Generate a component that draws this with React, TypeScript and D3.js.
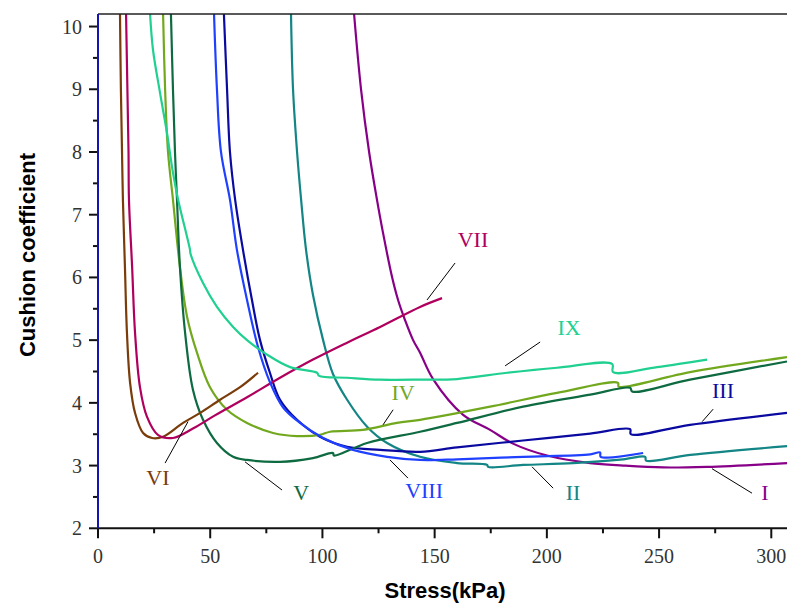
import React from 'react';
import * as d3 from 'd3';

// stress (kPa), cushion coefficient
const curveI: [number, number][] = [
  [114.1, 10.2], [117.2, 9.0], [120.8, 8.0], [124.3, 7.24], [127.0, 6.71], [131.0, 6.01],
  [133.7, 5.64], [136.8, 5.32], [140.4, 5.0], [143.5, 4.8], [149.3, 4.38], [162.7, 3.81],
  [174.7, 3.57], [184.9, 3.35], [200.1, 3.16], [219.3, 3.04], [234.0, 3.0], [251.8, 2.97],
  [271.4, 2.98], [307, 3.04],
];
const curveII: [number, number][] = [
  [86.0, 10.2], [86.9, 9.0], [88.7, 8.0], [90.5, 7.24], [92.7, 6.44], [95.8, 5.72],
  [100.3, 5.0], [104.7, 4.46], [111.0, 4.05], [119.9, 3.62], [128.8, 3.36], [143.5, 3.14],
  [160, 3.04], [173.4, 3.01], [173.8, 2.98], [189.4, 3.01], [211.7, 3.04], [234, 3.1],
  [243.8, 3.14], [244.2, 3.08], [263.9, 3.17], [307, 3.31],
];
const curveIII: [number, number][] = [
  [56.1, 10.2], [57.5, 9.0], [58.8, 8.0], [61.1, 7.24], [64.6, 6.44], [68.6, 5.64],
  [72.2, 5.0], [76.6, 4.48], [81.1, 4.05], [88.7, 3.73], [98.9, 3.46], [111.0, 3.3],
  [125.7, 3.25], [143.5, 3.22], [160, 3.29], [189.4, 3.4], [219.3, 3.51], [237.1, 3.58],
  [237.4, 3.5], [263.8, 3.65], [307, 3.84],
];
const curveIV: [number, number][] = [
  [29.0, 10.2], [29.9, 9.0], [31.2, 8.0], [33.4, 7.24], [36.5, 6.17], [39.7, 5.37],
  [44.1, 4.8], [49.9, 4.25], [57.5, 3.89], [66.4, 3.68], [78.0, 3.52], [88.7, 3.47],
  [98.9, 3.49], [103.4, 3.54], [118.1, 3.57], [133.2, 3.68], [143.5, 3.73], [174.7, 3.94],
  [204.5, 4.16], [231.7, 4.32], [232.0, 4.26], [263.8, 4.49], [307, 4.73],
];
const curveV: [number, number][] = [
  [32.5, 10.2], [33.4, 9.0], [34.3, 8.0], [35.2, 7.24], [36.5, 6.17], [38.8, 5.12],
  [42.3, 4.21], [46.8, 3.73], [53.0, 3.36], [60.2, 3.14], [66.4, 3.09], [81.1, 3.06],
  [95.8, 3.12], [104.7, 3.2], [105.1, 3.16], [119.9, 3.36], [143.5, 3.54], [160, 3.68],
  [189.4, 3.94], [219.3, 4.13], [237.1, 4.24], [238.0, 4.18], [263.8, 4.37], [307, 4.66],
];
const curveVI: [number, number][] = [
  [9.8, 10.2], [10.2, 9.0], [10.7, 8.0], [11.1, 7.24], [12.0, 6.17], [12.9, 5.12],
  [14.3, 4.32], [16.5, 3.84], [20.1, 3.52], [24.1, 3.44], [29.0, 3.46], [37.9, 3.68],
  [45.5, 3.84], [54.4, 4.05], [63.3, 4.25], [71.3, 4.48],
];
const curveVII: [number, number][] = [
  [12.5, 10.2], [13.1, 9.0], [13.6, 8.0], [13.8, 7.24], [15.2, 6.17], [16.5, 5.12],
  [18.7, 4.25], [21.8, 3.78], [26.7, 3.49], [33.4, 3.44], [42.3, 3.59], [52.1, 3.8],
  [66.4, 4.09], [81.1, 4.4], [95.8, 4.69], [111.0, 4.96], [125.7, 5.21], [143.5, 5.53],
  [153.3, 5.67],
];
const curveVIII: [number, number][] = [
  [51.7, 10.2], [53.0, 9.0], [54.8, 8.0], [58.8, 7.24], [61.9, 6.44], [66.4, 5.64],
  [71.3, 4.89], [76.6, 4.33], [82.4, 3.93], [90.0, 3.68], [100.3, 3.44], [113.6, 3.25],
  [128.8, 3.14], [143.5, 3.09], [160, 3.1], [189.4, 3.14], [219.3, 3.18], [223.7, 3.21],
  [224.0, 3.14], [242.9, 3.2],
];
const curveIX: [number, number][] = [
  [23.2, 10.2], [24.5, 9.63], [27.6, 8.95], [30.7, 8.31], [33.4, 7.67], [35.7, 7.24],
  [41.0, 6.44], [41.2, 6.38], [46.8, 5.91], [53.0, 5.53], [60.2, 5.21], [66.4, 5.0],
  [75.3, 4.77], [85.6, 4.57], [97.6, 4.48], [98.5, 4.43], [111.0, 4.4], [125.7, 4.37],
  [143.5, 4.37], [160, 4.38], [182.3, 4.48], [204.5, 4.56], [229.1, 4.62], [229.5, 4.49],
  [249.1, 4.57], [271.4, 4.69],
];

const names = ['I', 'II', 'III', 'IV', 'V', 'VI', 'VII', 'VIII', 'IX'];
const colors = ['#880088', '#138585', '#0a0aa0', '#72a81e', '#0e6a40', '#7a3c0a', '#b0005e', '#2040ff', '#20d090'];
const curves = [curveI, curveII, curveIII, curveIV, curveV, curveVI, curveVII, curveVIII, curveIX];
// label anchor and leader line ends, in data units
const labelPos: [number, number][] = [
  [297.2, 2.45], [211.7, 2.45], [278.5, 4.08], [135.9, 4.05], [90.5, 2.45],
  [26.7, 2.69], [167.1, 6.49], [145.3, 2.48], [209.9, 5.08],
];
const leaders: [number, number, number, number][] = [
  [273.6, 2.95, 291.4, 2.56], [193.4, 2.98, 202.8, 2.64], [274.1, 3.9, 269.2, 3.7],
  [131.5, 3.89, 127.0, 3.65], [65.5, 3.06, 82.0, 2.61], [29.9, 3.04, 40.1, 3.7],
  [159.1, 6.23, 146.6, 5.64], [130.1, 3.09, 138.1, 2.8], [197.0, 4.97, 181.4, 4.59],
];

const xMajor = [0, 50, 100, 150, 200, 250, 300];
const xMinor = [25, 75, 125, 175, 225, 275];
const yMajor = [2, 3, 4, 5, 6, 7, 8, 9, 10];
const yMinor = [2.5, 3.5, 4.5, 5.5, 6.5, 7.5, 8.5, 9.5];

const W = 787, H = 603;
const left = 98, right = 787, top = 14, bottom = 528.3;

export default function App() {
  const x = d3.scaleLinear().domain([0, 307]).range([left, right]);
  const y = d3.scaleLinear().domain([2, 10.2]).range([bottom, top]);
  const line = d3.line<[number, number]>()
    .x(d => x(d[0]))
    .y(d => y(d[1]))
    .curve(d3.curveCatmullRom.alpha(0.5));
  const serif = '"Liberation Serif", "DejaVu Serif", serif';
  const sans = '"Liberation Sans", Arial, sans-serif';

  return (
    <svg width={W} height={H} style={{ position: 'absolute', left: 0, top: 0, background: '#fff' }}>
      <defs>
        <clipPath id="plot">
          <rect x={left} y={top} width={right - left} height={bottom - top} />
        </clipPath>
      </defs>

      <g clipPath="url(#plot)">
        {curves.map((c, i) => (
          <path key={names[i]} d={line(c) || ''} fill="none" stroke={colors[i]} strokeWidth={2.2}
            strokeLinejoin="round" />
        ))}
      </g>

      {leaders.map((l, i) => (
        <line key={'l' + i} x1={x(l[0])} y1={y(l[1])} x2={x(l[2])} y2={y(l[3])} stroke="#000" strokeWidth={1} />
      ))}
      {labelPos.map((p, i) => (
        <text key={'t' + i} x={x(p[0])} y={y(p[1])} textAnchor="middle" fontFamily={serif}
          fontSize={22} fill={colors[i]}>{names[i]}</text>
      ))}

      {/* top frame */}
      <line x1={left} x2={right} y1={top} y2={top} stroke="#222" strokeWidth={1.5} />

      {/* x axis */}
      <line x1={left} x2={right} y1={bottom} y2={bottom} stroke="#111" strokeWidth={2} />
      {xMajor.map(v => (
        <g key={'xm' + v}>
          <line x1={x(v)} x2={x(v)} y1={bottom} y2={bottom + 10} stroke="#111" strokeWidth={2} />
          <text x={x(v)} y={563} textAnchor="middle" fontFamily={serif} fontSize={20} fill="#333">{v}</text>
        </g>
      ))}
      {xMinor.map(v => (
        <line key={'xn' + v} x1={x(v)} x2={x(v)} y1={bottom} y2={bottom + 5} stroke="#111" strokeWidth={2} />
      ))}

      {/* y axis */}
      {yMajor.map(v => (
        <g key={'ym' + v}>
          <line x1={left - 9} x2={left} y1={y(v)} y2={y(v)} stroke="#111" strokeWidth={2} />
          <text x={82} y={y(v)} dy="0.35em" textAnchor="end" fontFamily={serif} fontSize={20} fill="#333">{v}</text>
        </g>
      ))}
      {yMinor.map(v => (
        <line key={'yn' + v} x1={left - 5} x2={left} y1={y(v)} y2={y(v)} stroke="#111" strokeWidth={2} />
      ))}
      <line x1={left} x2={left} y1={top} y2={bottom} stroke="#1414b4" strokeWidth={2} />

      <text x={445} y={598} textAnchor="middle" fontFamily={sans} fontWeight="bold" fontSize={22} fill="#000">
        Stress(kPa)
      </text>
      <text transform={`translate(35, 255) rotate(-90)`} textAnchor="middle" fontFamily={sans}
        fontWeight="bold" fontSize={22} fill="#000">
        Cushion coefficient
      </text>
    </svg>
  );
}
